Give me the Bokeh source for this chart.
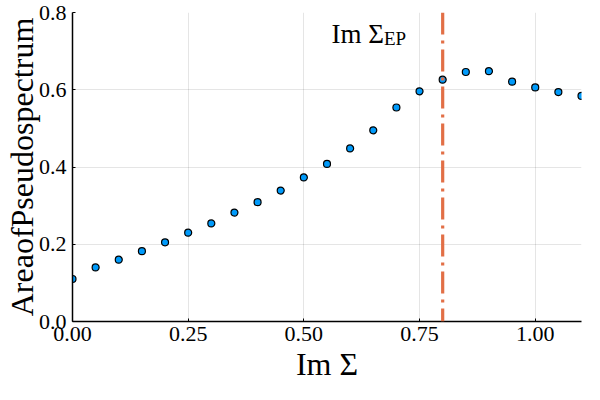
from bokeh.plotting import figure
from bokeh.models import FixedTicker, NumeralTickFormatter, Label, Span, ColumnDataSource
from bokeh.embed import file_html
from bokeh.resources import INLINE

# data
im_sigma = [0.00, 0.05, 0.10, 0.15, 0.20, 0.25, 0.30, 0.35, 0.40, 0.45, 0.50, 0.55,
            0.60, 0.65, 0.70, 0.75, 0.80, 0.85, 0.90, 0.95, 1.00, 1.05, 1.10]
area = [0.110, 0.140, 0.160, 0.182, 0.205, 0.230, 0.254, 0.282, 0.309, 0.339, 0.373, 0.408,
        0.448, 0.495, 0.554, 0.596, 0.626, 0.646, 0.648, 0.621, 0.606, 0.594, 0.584]
im_sigma_ep = 0.8
x_ticks = [0.0, 0.25, 0.5, 0.75, 1.0]
y_ticks = [0.0, 0.2, 0.4, 0.6, 0.8]
x_lim = (0.0, 1.1)
y_lim = (0.0, 0.8)
ann_x, ann_y = 0.645, 0.745
x_title = "Im Σ"
y_title = "AreaofPseudospectrum"

FONT = "Liberation Serif"

p = figure(width=584, height=384, output_backend="svg", toolbar_location=None,
           x_range=x_lim, y_range=y_lim,
           min_border_left=60, min_border_right=3, min_border_top=12, min_border_bottom=56)

p.outline_line_color = None
p.background_fill_color = "white"
p.border_fill_color = "white"

for ax in (p.xaxis[0], p.yaxis[0]):
    ax.axis_line_color = "black"
    ax.axis_line_width = 1.5
    ax.major_tick_in = 3
    ax.major_tick_out = 0
    ax.major_tick_line_color = "black"
    ax.minor_tick_line_color = None
    ax.major_label_text_font = FONT
    ax.major_label_text_font_size = "22px"
    ax.major_label_text_color = "black"
    ax.axis_label_text_font = FONT
    ax.axis_label_text_font_style = "normal"
    ax.axis_label_text_font_size = "32px"
    ax.axis_label_text_color = "black"

p.xaxis.ticker = FixedTicker(ticks=x_ticks)
p.yaxis.ticker = FixedTicker(ticks=y_ticks)
p.xaxis.formatter = NumeralTickFormatter(format="0.00")
p.yaxis.formatter = NumeralTickFormatter(format="0.0")
p.xaxis.axis_label = x_title
p.yaxis.axis_label = y_title
p.xaxis.major_label_standoff = 5
p.yaxis.major_label_standoff = 6
p.xaxis.axis_label_standoff = 2
p.yaxis.axis_label_standoff = -4

p.xgrid.ticker = FixedTicker(ticks=x_ticks)
p.ygrid.ticker = FixedTicker(ticks=y_ticks)
p.grid.grid_line_color = "black"
p.grid.grid_line_alpha = 0.1
p.grid.grid_line_width = 1

src = ColumnDataSource(dict(x=im_sigma, y=area))
p.scatter("x", "y", source=src, size=7, fill_color="#009AFA", line_color="black", line_width=1.2)

vline = Span(location=im_sigma_ep, dimension="height", line_color="#E26F46",
             line_width=3.2, line_dash="22 6 3 6")
p.add_layout(vline)

lab1 = Label(x=ann_x, y=ann_y, text="Im Σ", text_align="right", text_baseline="middle",
             x_offset=13, text_font=FONT, text_font_size="27px", text_color="black")
lab2 = Label(x=ann_x, y=ann_y, text="EP", text_align="left", text_baseline="middle",
             x_offset=13, y_offset=-5, text_font=FONT, text_font_size="19px", text_color="black")
p.add_layout(lab1)
p.add_layout(lab2)

open("out.html", "w").write(file_html(p, INLINE))
